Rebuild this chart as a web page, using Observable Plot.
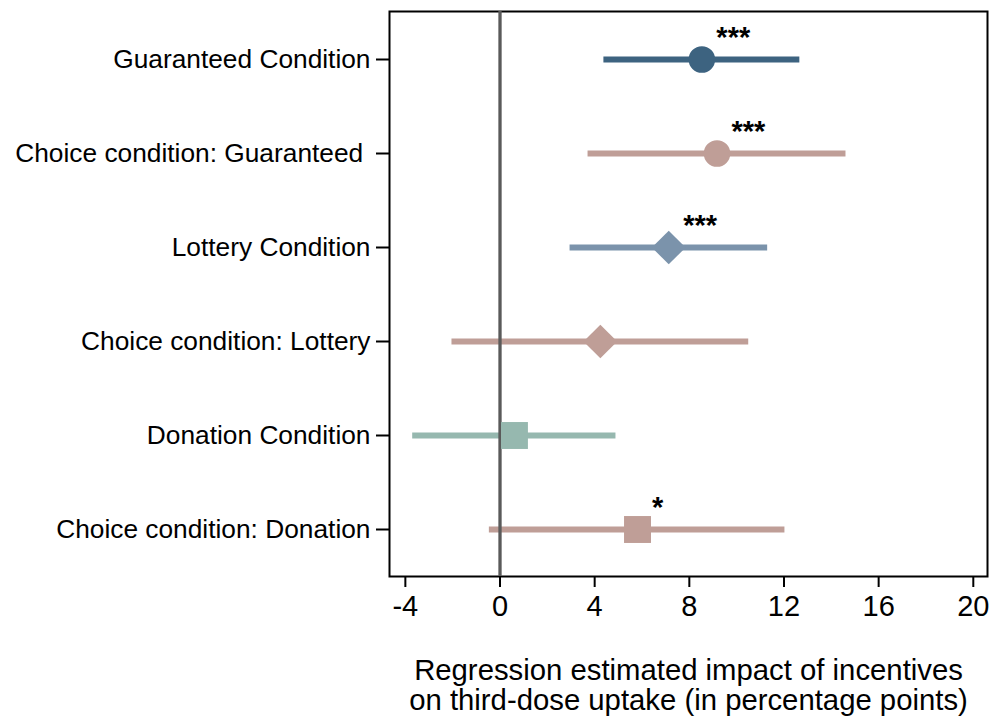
<!DOCTYPE html>
<html>
<head>
<meta charset="utf-8">
<script src="https://cdn.jsdelivr.net/npm/d3@7"></script>
<script src="https://cdn.jsdelivr.net/npm/@observablehq/plot@0.6"></script>
<style>
  body { margin: 0; background: #fff; }
  #chart svg { display: block; }
</style>
</head>
<body>
<div id="chart"></div>
<script>
// ---- data ----
const conditions = [
  "Guaranteed Condition",
  "Choice condition: Guaranteed ",
  "Lottery Condition",
  "Choice condition: Lottery",
  "Donation Condition",
  "Choice condition: Donation"
];
const estimates = [8.53, 9.17, 7.13, 4.24, 0.61, 5.81];
const ciLow     = [4.39, 3.72, 2.96, -2.03, -3.69, -0.45];
const ciHigh    = [12.67, 14.62, 11.31, 10.51, 4.90, 12.04];
const significance = ["***", "***", "***", "", "", "*"];
const incentive = ["Guaranteed", "Guaranteed", "Lottery", "Lottery", "Donation", "Donation"];
const arm = ["Direct", "Choice", "Direct", "Choice", "Direct", "Choice"];
const xTicks = [-4, 0, 4, 8, 12, 16, 20];
const axisTitle = ["Regression estimated impact of incentives", "on third-dose uptake (in percentage points)"];

// ---- palette / symbols (styles kept separate) ----
const groupDomain = ["Guaranteed", "Lottery", "Donation", "Choice"];
const groupColors = ["#3d6380", "#7b93ab", "#96b8af", "#bf9e97"];
const symbolDomain = ["Guaranteed", "Lottery", "Donation"];
const symbolRange = ["circle", "diamond2", "square"];

const rows = conditions.map((c, i) => ({
  condition: c, est: estimates[i], lo: ciLow[i], hi: ciHigh[i],
  stars: significance[i], incentive: incentive[i], arm: arm[i]
}));
const group = d => d.arm === "Choice" ? "Choice" : d.incentive;

const plot = Plot.plot({
  width: 992,
  height: 720,
  marginTop: 11,
  marginBottom: 144,
  marginLeft: 389,
  marginRight: 5,
  style: { fontFamily: "'Liberation Sans', Arial, sans-serif", background: "#fff", color: "#000" },
  x: { domain: [-4.67, 20.6], label: null },
  y: { type: "point", domain: conditions, padding: 0.49, label: null },
  color: { domain: groupDomain, range: groupColors },
  symbol: { domain: symbolDomain, range: symbolRange },
  r: { type: "identity" },
  marks: [
    Plot.axisX({ ticks: xTicks, tickSize: 11, tickPadding: 8, fontSize: 29, strokeWidth: 2, stroke: "#000",
      label: null, tickFormat: d => String(d) }),
    Plot.axisY({ tickSize: 13, tickPadding: 6, fontSize: 26.3, strokeWidth: 2, stroke: "#000", label: null,
      tickFormat: d => d.endsWith(" ") ? d.trimEnd() + "\u00a0" : d }),
    Plot.ruleY(rows, { y: "condition", x1: "lo", x2: "hi", stroke: group, strokeWidth: 6 }),
    Plot.frame({ stroke: "#000", strokeWidth: 2 }),
    Plot.ruleX([0], { stroke: "#5a5a5a", strokeWidth: 3.3 }),
    Plot.dot(rows, { x: "est", y: "condition", fill: group, symbol: "incentive",
      r: d => d.incentive === "Guaranteed" ? 13.3 : 15.2, stroke: "none" }),
    Plot.text(rows.filter(d => d.stars), { x: "est", y: "condition", text: "stars",
      textAnchor: "start", lineAnchor: "bottom", dx: 14.5, dy: -13, fontSize: 29, fontWeight: "bold", fill: "#000" }),
    Plot.text([axisTitle.join("\n")], { frameAnchor: "bottom", lineAnchor: "top", dy: 82,
      fontSize: 29.3, lineHeight: 1.03, fill: "#000" })
  ]
});
document.getElementById("chart").appendChild(plot);
</script>
</body>
</html>
